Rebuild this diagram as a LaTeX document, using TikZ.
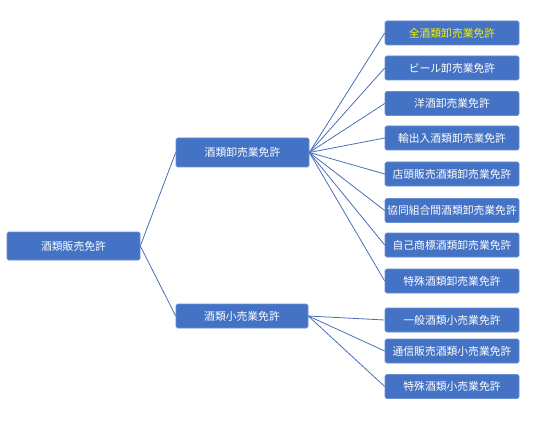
\documentclass[tikz,border=0pt]{standalone}
\usepackage{fontspec}
\newfontfamily\jpfont{Noto Sans CJK JP}
\definecolor{boxfill}{HTML}{4472C4}
\definecolor{boxline}{HTML}{6A8FD3}
\definecolor{linkc}{HTML}{4A6FB8}
\definecolor{yel}{HTML}{F2F200}
\begin{document}
\begin{tikzpicture}[x=1pt,y=-1pt,
  box/.style={draw=boxline,fill=boxfill,rounded corners=1.5pt,line width=0.6pt,
    text=white,font=\jpfont\fontsize{10.8}{12}\selectfont,inner xsep=0pt,inner ysep=0pt,
    minimum width=134pt,minimum height=24pt},
  link/.style={draw=linkc,line width=0.8pt}]
\useasboundingbox (0,0) rectangle (540,422);
\node[box,minimum width=133pt,minimum height=28pt] (root) at (73.5,246) {酒類販売免許};
\node[box,minimum width=133pt,minimum height=29pt] (m1) at (242.5,152.5) {酒類卸売業免許};
\node[box,minimum width=132pt,minimum height=24pt] (m2) at (242,316) {酒類小売業免許};
\node[box,text=yel] (l1) at (452,33) {全酒類卸売業免許};
\node[box] (l2) at (452,68) {ビール卸売業免許};
\node[box] (l3) at (452,103.5) {洋酒卸売業免許};
\node[box] (l4) at (452,138) {輸出入酒類卸売業免許};
\node[box] (l5) at (452,174) {店頭販売酒類卸売業免許};
\node[box] (l6) at (452,210.5) {協同組合間酒類卸売業免許};
\node[box] (l7) at (452,245) {自己商標酒類卸売業免許};
\node[box] (l8) at (452,281) {特殊酒類卸売業免許};
\node[box] (l9) at (452,320) {一般酒類小売業免許};
\node[box] (l10) at (452,351) {通信販売酒類小売業免許};
\node[box] (l11) at (452,386.5) {特殊酒類小売業免許};
\draw[link] (root.east) -- (m1.west);
\draw[link] (root.east) -- (m2.west);
\foreach \i in {1,...,8} \draw[link] (m1.east) -- (l\i.west);
\foreach \i in {9,10,11} \draw[link] (m2.east) -- (l\i.west);
\end{tikzpicture}
\end{document}
